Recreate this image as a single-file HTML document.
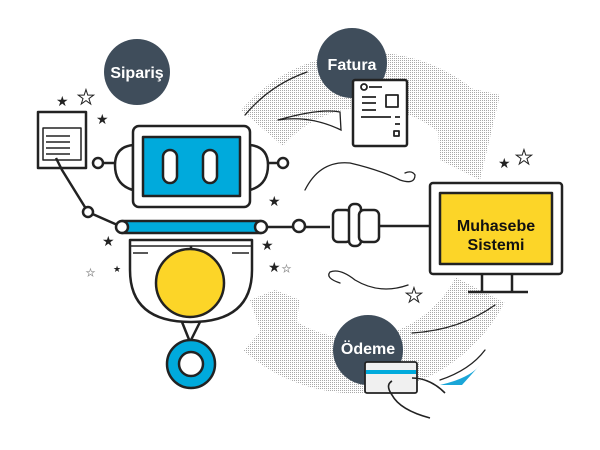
<!DOCTYPE html>
<html><head><style>body{margin:0;background:#fff}svg{display:block}</style></head><body>
<svg width="600" height="450" viewBox="0 0 600 450" xmlns="http://www.w3.org/2000/svg" font-family="Liberation Sans, sans-serif">
<defs>
<pattern id="dt" width="2" height="2" patternUnits="userSpaceOnUse"><rect width="2" height="2" fill="#fff"/><rect width="1" height="1" fill="#a8a8a8"/></pattern>
</defs>
<path d="M262,128 A140,140 0 0 1 455,110" fill="none" stroke="url(#dt)" stroke-width="55"/>
<path d="M435,80 L500,95 L480,180 L440,160 Z" fill="url(#dt)"/>
<path d="M480,290 A140,140 0 0 1 262,330" fill="none" stroke="url(#dt)" stroke-width="55"/>
<path d="M250,300 L275,290 L300,300 L290,360 L265,345 Z" fill="url(#dt)"/>
<g fill="none" stroke="#222" stroke-width="1.3" stroke-linecap="round">
<path d="M245,115 Q270,85 307,72"/>
<path d="M278,120 Q320,108 340,112 L341,130 Q310,115 278,120"/>
<path d="M305,190 Q320,160 350,163 Q380,170 400,180 Q415,185 415,175 Q412,170 405,173"/>
<path d="M408,285 Q380,295 355,280 Q340,268 330,272 Q325,278 340,283"/>
<path d="M412,333 Q460,330 495,305"/>
<path d="M440,380 Q470,370 485,350"/>
</g>
<path d="M440,385 Q470,378 480,365 L462,385 Z" fill="#1aa6d8"/>
<circle cx="137" cy="72" r="33" fill="#3f4d5b"/>
<text x="137" y="78" text-anchor="middle" fill="#fff" font-weight="bold" font-size="16">Sipariş</text>
<circle cx="352" cy="63" r="35" fill="#3f4d5b"/>
<text x="352" y="70" text-anchor="middle" fill="#fff" font-weight="bold" font-size="16">Fatura</text>
<circle cx="368" cy="350" r="35" fill="#3f4d5b"/>
<text x="368" y="354" text-anchor="middle" fill="#fff" font-weight="bold" font-size="16">Ödeme</text>
<g stroke="#222" stroke-width="2.5" fill="#fff" stroke-linejoin="round">
<rect x="38" y="112" width="48" height="56"/>
<rect x="43" y="128" width="38" height="32" stroke-width="1.5"/>
<path d="M46,136 H70 M46,142 H70 M46,148 H70 M46,154 H70" stroke-width="1.5"/>
<path d="M56,158 L62,170 L88,212 L122,227" fill="none"/>
<circle cx="88" cy="212" r="5"/>
<path d="M133,145 Q115,147 115,165 Q115,185 133,190 Z"/>
<path d="M250,145 Q268,147 268,165 Q268,185 250,190 Z"/>
<path d="M103,163 H115 M268,163 H278" fill="none"/>
<circle cx="98" cy="163" r="5"/><circle cx="283" cy="163" r="5"/>
<rect x="133" y="126" width="117" height="81" rx="6"/>
<rect x="143" y="137" width="97" height="59" fill="#00aadc"/>
<rect x="163" y="150" width="14" height="33" rx="7"/>
<rect x="203" y="150" width="14" height="33" rx="7"/>
<path d="M130,240 H252 V270 Q252,322 191,322 Q130,322 130,270 Z"/>
<path d="M130,246 H252 M133,253 H148 M232,253 H249" fill="none" stroke-width="1.5"/>
<line x1="191" y1="246" x2="191" y2="252"/>
<circle cx="190" cy="283" r="34" fill="#fcd528"/>
<path d="M182,322 L190,342 L200,322" fill="none"/>
<circle cx="191" cy="364" r="24" fill="#00aadc"/>
<circle cx="191" cy="364" r="12"/>
<rect x="122" y="221" width="139" height="12" fill="#00aadc"/>
<path d="M261,227 H330 M380,226 H432" fill="none"/>
<circle cx="122" cy="227" r="6"/><circle cx="261" cy="227" r="6"/><circle cx="299" cy="226" r="6"/>
<rect x="333" y="210" width="18" height="32" rx="5"/>
<rect x="349" y="204" width="12" height="42" rx="5"/>
<rect x="359" y="210" width="20" height="32" rx="5"/>
<rect x="430" y="183" width="132" height="91" rx="3"/>
<rect x="440" y="193" width="112" height="71" fill="#fcd528"/>
<path d="M482,275 V291 M512,275 V291 M468,292 H528" fill="none"/>
<rect x="353" y="80" width="54" height="66" rx="2"/>
<g stroke-width="1.8" fill="none"><circle cx="364" cy="87" r="3"/><path d="M369,87 H382 M362,97 H376 M362,103 H376 M362,110 H376 M361,117 H391 M395,117 H400 M395,124 H400"/><rect x="386" y="95" width="12" height="12"/><rect x="394" y="131" width="5" height="5"/></g>
<rect x="365" y="362" width="52" height="31" rx="2" fill="#f0f0f0" stroke-width="1.8"/>
<rect x="366" y="370" width="50" height="4" fill="#00aadc" stroke="none"/>
<path d="M392,381 Q385,385 392,395 Q400,410 430,418 M412,378 Q430,378 445,393" fill="none" stroke-width="1.6"/>
</g>
<text x="496" y="231" text-anchor="middle" font-weight="bold" font-size="16" fill="#111">Muhasebe</text>
<text x="496" y="250" text-anchor="middle" font-weight="bold" font-size="16" fill="#111">Sistemi</text>
<g fill="#222" font-size="14">
<text x="56" y="106">★</text><text x="96" y="124">★</text><text x="268" y="206">★</text>
<text x="102" y="246">★</text><text x="261" y="250">★</text><text x="268" y="272">★</text><text x="113" y="272" font-size="9">★</text>
<text x="498" y="168">★</text>
</g>
<g fill="none" stroke="#222" font-size="20">
<text x="77" y="104" fill="#fff" stroke="#222" stroke-width="1">★</text>
<text x="515" y="164" fill="#fff" stroke="#222" stroke-width="1">★</text>
<text x="405" y="302" fill="#fff" stroke="#222" stroke-width="1">★</text>
<text x="282" y="272" font-size="10" fill="#fff" stroke="#999" stroke-width="0.7">★</text>
<text x="86" y="276" font-size="10" fill="#fff" stroke="#999" stroke-width="0.7">★</text>
</g>
</svg>
</body></html>
